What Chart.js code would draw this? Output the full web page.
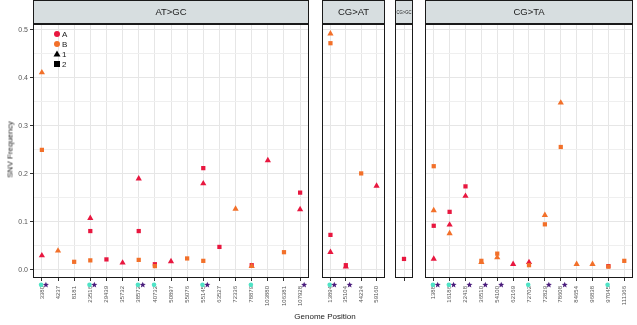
<!DOCTYPE html>
<html lang="en">
<head>
    <meta charset="UTF-8">
    <title>SNV Frequency by Genome Position</title>
    <script src="https://cdn.jsdelivr.net/npm/chart.js"></script>
    <style>
        body { margin: 0; background: #fff; font-family: "Liberation Sans", Arial, sans-serif; }
        #wrap { position: relative; width: 637px; height: 325px; overflow: hidden; }
        canvas { position: absolute; top: 0; }
        .ytitle {
            position: absolute; left: -35px; top: 145px; width: 90px; text-align: center;
            transform: rotate(-90deg); font-size: 8px; color: #1a1a1a;
        }
        .xtitle {
            position: absolute; left: 270px; top: 312px; width: 110px; text-align: center;
            font-size: 8px; color: #1a1a1a;
        }
    </style>
</head>
<body>
<div id="wrap">
    <canvas id="p1" width="313" height="325" style="left:0px"></canvas>
    <canvas id="p2" width="71" height="325" style="left:318px"></canvas>
    <canvas id="p3" width="26" height="325" style="left:391px"></canvas>
    <canvas id="p4" width="216" height="325" style="left:421px"></canvas>
    <div class="ytitle">SNV Frequency</div>
    <div class="xtitle">Genome Position</div>
</div>

<script>
    // facets and their genome positions
    const facets = ['AT>GC', 'CG>AT', 'CG>GC', 'CG>TA'];
    const positions = [
        ['3380', '4237', '8181', '23516', '29439', '35732', '38572', '40732', '50897', '55076',
         '55145', '63527', '72336', '78879', '103880', '106381', '107928'],
        ['13894', '35104', '44234', '59160'],
        [''],
        ['1388', '16186', '22418', '36510', '54100', '62169', '72702', '72829', '78608',
         '84654', '96838', '97045', '111366']
    ];

    // points: [position index, frequency] per sample (A/B) and replicate (1 = triangle, 2 = square)
    const a1 = [
        [[0, 0.030], [3, 0.108], [5, 0.015], [6, 0.190], [8, 0.018], [10, 0.180], [14, 0.228], [16, 0.126]],
        [[0, 0.037], [1, 0.007], [3, 0.175]],
        [],
        [[0, 0.023], [1, 0.094], [2, 0.154], [5, 0.012], [6, 0.016]]
    ];
    const a2 = [
        [[3, 0.081], [4, 0.022], [6, 0.081], [7, 0.012], [10, 0.212], [11, 0.048], [13, 0.010], [16, 0.161]],
        [[0, 0.073], [1, 0.010]],
        [[0, 0.023]],
        [[0, 0.092], [1, 0.121], [2, 0.174], [11, 0.008]]
    ];
    const b1 = [
        [[0, 0.411], [1, 0.040], [12, 0.127], [13, 0.008]],
        [[0, 0.492]],
        [],
        [[0, 0.124], [1, 0.076], [3, 0.016], [4, 0.026], [7, 0.114], [8, 0.348], [9, 0.012], [10, 0.012]]
    ];
    const b2 = [
        [[0, 0.250], [2, 0.017], [3, 0.020], [6, 0.021], [7, 0.008], [9, 0.024], [10, 0.019], [15, 0.037]],
        [[0, 0.472], [2, 0.201]],
        [],
        [[0, 0.216], [3, 0.019], [4, 0.034], [6, 0.010], [7, 0.095], [8, 0.256], [11, 0.007], [12, 0.019]]
    ];

    // annotation markers under the axis (position indexes)
    const cyanMarks = [[0, 3, 6, 7, 10, 13], [0], [], [0, 1, 6, 11]];
    const purpleMarks = [[0, 3, 6, 10, 16], [0, 1], [], [0, 1, 2, 3, 4, 7, 8]];

    const yTicks = [0, 0.1, 0.2, 0.3, 0.4, 0.5];

    const RED = '#E8173F';
    const ORANGE = '#F2702A';
    const CYAN = '#4FE3C6';
    const PURPLE = '#4A1C7C';

    function toPts(arr) {
        return arr.map(p => ({ x: p[0], y: p[1] }));
    }

    const panelPlugin = {
        id: 'panel',
        afterDraw(chart, args, opts) {
            const { ctx, chartArea: a, scales } = chart;
            ctx.save();
            // strip
            ctx.fillStyle = '#D7DEE0';
            ctx.fillRect(a.left, 0.5, a.right - a.left, 23);
            ctx.strokeStyle = '#1a1a1a';
            ctx.lineWidth = 1;
            ctx.strokeRect(a.left + 0.5, 0.5, a.right - a.left - 1, 23);
            ctx.fillStyle = '#1a1a1a';
            ctx.font = opts.small ? '6px "Liberation Sans", Arial' : '9.5px "Liberation Sans", Arial';
            ctx.textAlign = 'center';
            ctx.textBaseline = 'middle';
            ctx.fillText(opts.label, (a.left + a.right) / 2, 12.5, a.right - a.left - 3);
            // panel border
            ctx.strokeRect(a.left + 0.5, a.top + 0.5, a.right - a.left - 1, a.bottom - a.top - 1);

            // markers under the axis
            const my = scales.y.getPixelForValue(-0.031);
            cyanMarks[opts.k].forEach(i => {
                ctx.fillStyle = CYAN;
                ctx.beginPath();
                ctx.arc(scales.x.getPixelForValue(i - 0.05), my, 2.3, 0, Math.PI * 2);
                ctx.fill();
            });
            purpleMarks[opts.k].forEach(i => {
                const cx = scales.x.getPixelForValue(i + 0.25);
                ctx.fillStyle = PURPLE;
                ctx.beginPath();
                for (let j = 0; j < 10; j++) {
                    const r = j % 2 === 0 ? 3.2 : 1.4;
                    const ang = -Math.PI / 2 + j * Math.PI / 5;
                    ctx.lineTo(cx + r * Math.cos(ang), my + r * Math.sin(ang));
                }
                ctx.closePath();
                ctx.fill();
            });

            // legend (first panel only)
            if (opts.legend) {
                const x = a.left + 24, rows = [34, 44, 54, 64];
                ctx.textAlign = 'left';
                ctx.font = '8px "Liberation Sans", Arial';
                ctx.fillStyle = RED;
                ctx.beginPath(); ctx.arc(x, rows[0], 3, 0, Math.PI * 2); ctx.fill();
                ctx.fillStyle = ORANGE;
                ctx.beginPath(); ctx.arc(x, rows[1], 3, 0, Math.PI * 2); ctx.fill();
                ctx.fillStyle = '#000';
                ctx.beginPath();
                ctx.moveTo(x, rows[2] - 3.5); ctx.lineTo(x + 3.5, rows[2] + 2.5); ctx.lineTo(x - 3.5, rows[2] + 2.5);
                ctx.closePath(); ctx.fill();
                ctx.fillRect(x - 3, rows[3] - 3, 6, 6);
                ctx.fillStyle = '#1a1a1a';
                ['A', 'B', '1', '2'].forEach((t, i) => ctx.fillText(t, x + 5, rows[i] + 0.5));
            }
            ctx.restore();
        }
    };

    function makePanel(id, k, opts) {
        const n = positions[k].length;
        const labels = positions[k];
        const pt = (color, style) => ({
            pointStyle: style, backgroundColor: color, borderColor: color,
            pointRadius: style === 'triangle' ? 3.6 : 3, borderWidth: 0, clip: false
        });
        new Chart(document.getElementById(id), {
            type: 'scatter',
            data: {
                datasets: [
                    Object.assign({ data: toPts(b2[k]) }, pt(ORANGE, 'rect')),
                    Object.assign({ data: toPts(b1[k]) }, pt(ORANGE, 'triangle')),
                    Object.assign({ data: toPts(a2[k]) }, pt(RED, 'rect')),
                    Object.assign({ data: toPts(a1[k]) }, pt(RED, 'triangle'))
                ]
            },
            options: {
                responsive: false,
                animation: false,
                events: [],
                layout: { padding: { top: 24, left: opts.padL, right: opts.padR, bottom: 0 } },
                plugins: {
                    legend: { display: false },
                    tooltip: { enabled: false },
                    panel: { k: k, label: facets[k], legend: k === 0, small: k === 2 }
                },
                scales: {
                    x: {
                        type: 'linear',
                        min: -0.55,
                        max: n - 1 + 0.55,
                        border: { display: false },
                        grid: {
                            color: '#E6E6E6', lineWidth: 1, drawTicks: true, tickLength: 3, tickColor: '#333'
                        },
                        ticks: {
                            stepSize: 1, includeBounds: false, autoSkip: false,
                            minRotation: 90, maxRotation: 90, padding: 5,
                            color: '#555', font: { size: 6, family: '"Liberation Sans", Arial' },
                            callback: v => (Number.isInteger(v) && labels[v] !== undefined) ? labels[v] : ''
                        },
                        afterFit(s) { s.height = 47; s.paddingLeft = 0; s.paddingRight = 0; }
                    },
                    y: {
                        min: -0.0167,
                        max: 0.512,
                        border: { display: false },
                        grid: {
                            color: ctx => (yTicks.some(t => Math.abs(t - ctx.tick.value) < 1e-6) ? '#E6E6E6' : '#EFEFEF'),
                            lineWidth: 1,
                            drawTicks: k === 0,
                            tickLength: 3,
                            tickColor: ctx => (yTicks.some(t => Math.abs(t - ctx.tick.value) < 1e-6) ? '#333' : 'rgba(0,0,0,0)')
                        },
                        ticks: {
                            display: k === 0,
                            stepSize: 0.05, includeBounds: false, padding: 2,
                            color: '#555', font: { size: 7, family: '"Liberation Sans", Arial' },
                            callback: v => (yTicks.some(t => Math.abs(t - v) < 1e-6) ? v.toFixed(1) : '')
                        },
                        afterFit(s) { s.width = k === 0 ? 33 : 0; s.paddingTop = 0; s.paddingBottom = 0; }
                    }
                }
            },
            plugins: [panelPlugin]
        });
    }

    makePanel('p1', 0, { padL: 0, padR: 2 });
    makePanel('p2', 1, { padL: 2, padR: 2 });
    makePanel('p3', 2, { padL: 2, padR: 2 });
    makePanel('p4', 3, { padL: 2, padR: 1 });
</script>
</body>
</html>
